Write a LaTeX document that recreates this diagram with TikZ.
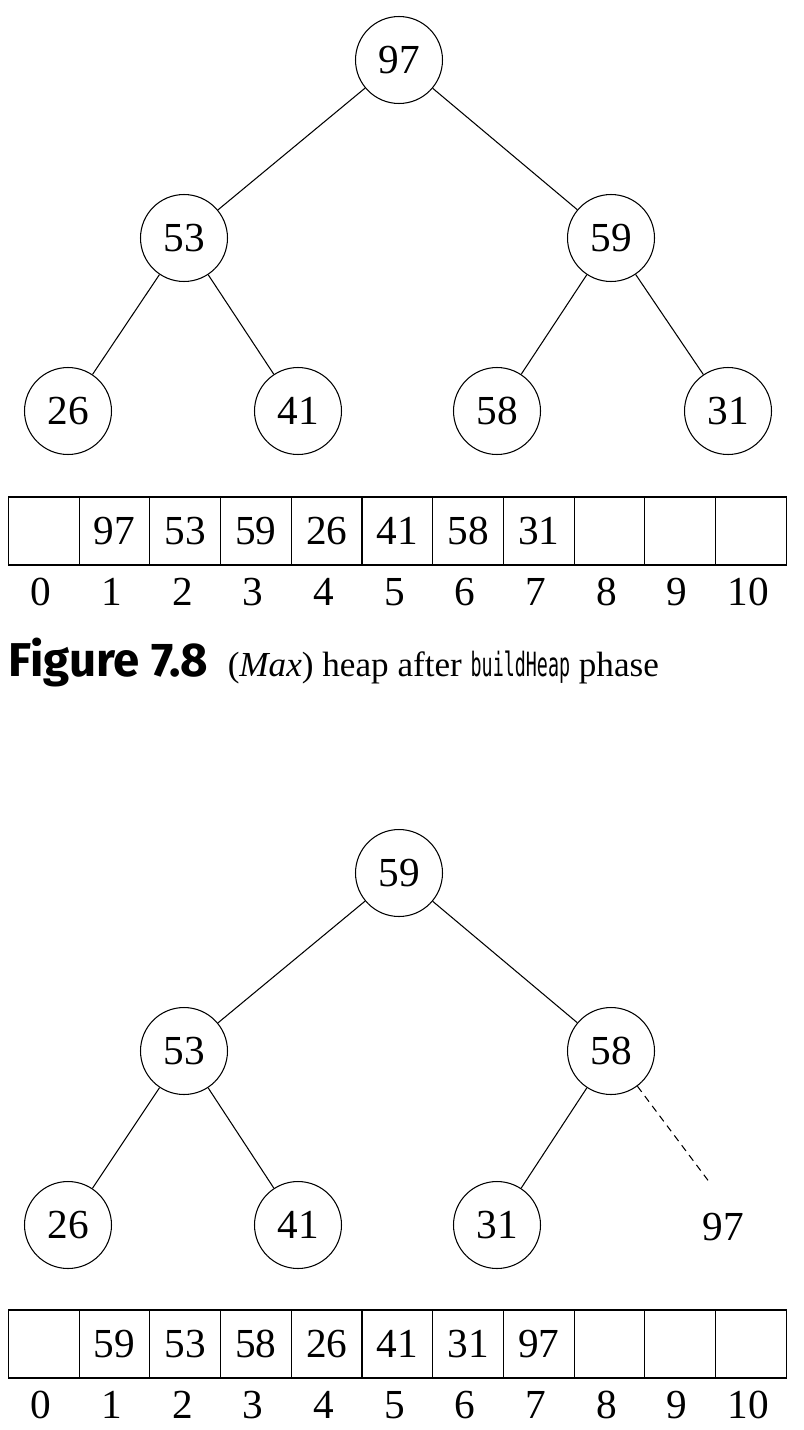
\documentclass[tikz,border=0pt]{standalone}
\usepackage{fontspec}
\setmainfont{Liberation Serif}
\newfontfamily\capsans{Fira Sans}
\newfontfamily\capmono[FakeStretch=0.55]{DejaVu Sans Mono}
\newcommand{\heapsize}{\fontsize{23.5}{28}\selectfont}
\newcommand{\keydiam}{1.74cm}
\newcommand{\cellwidth}{1.414cm}
\tikzset{
    common/.style={font=\heapsize, inner sep=0pt, text height=15.9pt, text depth=0pt},
    key/.style={common, draw, circle, semithick, minimum size=\keydiam},
    ghost/.style={common, circle, minimum size=\keydiam},
    cell/.style={common, draw, rectangle, semithick, anchor=west, minimum width=\cellwidth, minimum height=1.36cm},
    idx/.style={common},
    link/.style={semithick},
    moved/.style={semithick, dash pattern=on 4pt off 3pt},
}

\begin{document}
\begin{tikzpicture}[x=0.02cm, y=-0.02cm]
    \useasboundingbox (0,0) rectangle (804,1430);

    % heap after buildHeap
    \node[key] (a97) at (399,60) {97};
    \node[key] (a53) at (184,238) {53};
    \node[key] (a59) at (611,238) {59};
    \node[key] (a26) at (68,411) {26};
    \node[key] (a41) at (298,411) {41};
    \node[key] (a58) at (497,411) {58};
    \node[key] (a31) at (728,411) {31};

    \draw[link] (a97) -- (a53);
    \draw[link] (a97) -- (a59);
    \draw[link] (a53) -- (a26);
    \draw[link] (a53) -- (a41);
    \draw[link] (a59) -- (a58);
    \draw[link] (a59) -- (a31);

    \foreach \v [count=\i from 0] in {{},97,53,59,26,41,58,31,{},{},{}} {
        \node[cell] (ta\i) at ({8+70.7*\i},531) {\v};
        \node[idx] (ia\i) at ({41+70.7*\i},592) {\i};
    }

    \node[anchor=west, inner sep=0pt, font={\fontsize{20}{24}\selectfont}] (caption) at (8,663)
        {{\capsans\bfseries\fontsize{27}{32}\selectfont Figure 7.8}\hspace{0.55em}(\textit{Max}) heap after {\capmono\fontsize{19}{22}\selectfont buildHeap} phase};

    % heap after first swap
    \node[key] (b59) at (399,873) {59};
    \node[key] (b53) at (184,1051) {53};
    \node[key] (b58) at (611,1051) {58};
    \node[key] (b26) at (68,1225) {26};
    \node[key] (b41) at (298,1225) {41};
    \node[key] (b31) at (497,1225) {31};
    \node[ghost] (b97) at (723,1227) {97};
    \coordinate (e97) at (710,1183);

    \draw[link] (b59) -- (b53);
    \draw[link] (b59) -- (b58);
    \draw[link] (b53) -- (b26);
    \draw[link] (b53) -- (b41);
    \draw[link] (b58) -- (b31);
    \draw[moved] (b58) -- (e97);

    \foreach \v [count=\i from 0] in {{},59,53,58,26,41,31,97,{},{},{}} {
        \node[cell] (tb\i) at ({8+70.7*\i},1344) {\v};
        \node[idx] (ib\i) at ({41+70.7*\i},1405) {\i};
    }
\end{tikzpicture}
\end{document}
